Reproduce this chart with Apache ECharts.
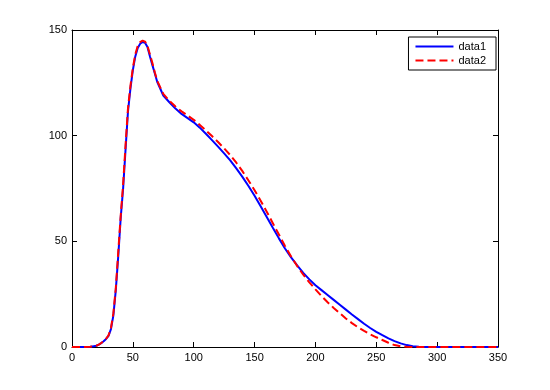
<!DOCTYPE html>
<html>
<head>
<meta charset="utf-8">
<script src="https://cdn.jsdelivr.net/npm/echarts@6/dist/echarts.min.js"></script>
<style>
  html, body { margin: 0; padding: 0; background: #fff; }
  #chart { width: 550px; height: 390px; }
</style>
</head>
<body>
<div id="chart"></div>
<script>
// x positions (finer sampling through the steep rise and the peak)
var xs = [0, 5, 10, 15, 18, 20, 22, 24, 26, 28, 30, 32, 34, 36, 38, 40, 42, 44, 46, 48,
  50, 52, 54, 56, 58, 60, 62, 64, 66, 68, 70, 75, 80, 85, 90, 95, 100, 105, 110, 115,
  120, 125, 130, 135, 140, 145, 150, 155, 160, 165, 170, 175, 180, 185, 190, 195, 200,
  205, 210, 215, 220, 225, 230, 235, 240, 245, 250, 255, 260, 265, 270, 275, 280, 285,
  290, 295, 300, 305, 310, 315, 320, 325, 330, 335, 340, 345, 350]

var data1 = [0, 0, 0, 0.1, 0.4, 0.6, 1.1, 1.8, 2.7, 3.8, 5.3, 8.5, 15, 27, 43, 61, 75, 93.5, 111.5, 122.3,
  131, 137.5, 141.5, 143.5, 144.3, 144, 142, 137.6, 133.5, 129.5, 125.5, 119, 115.8, 112.8, 110.3, 108.3, 106.3, 103.8, 100.9, 97.9,
  94.8, 91.6, 88.3, 84.5, 80.5, 76.2, 71.6, 66.6, 61.5, 56.4, 51.4, 46.6, 42.4, 38.6, 35.1, 32, 29.2,
  26.9, 24.6, 22.3, 20, 17.7, 15.4, 13.2, 11, 9, 7.2, 5.6, 4.1, 2.8, 1.7, 0.9, 0.4, 0.15,
  0.05, 0, 0, 0, 0, 0, 0, 0, 0, 0, 0, 0, 0]

var data2 = [0, 0, 0, 0.1, 0.4, 0.6, 1.1, 1.9, 2.8, 3.9, 5.5, 9, 16, 28, 45, 62, 77, 95.5, 113, 123.5,
  132, 138.5, 142.5, 144.3, 145, 144.5, 142.5, 138.5, 134.5, 130, 126, 119.8, 116.5, 113.8, 111.5, 109.5, 107.5, 105.1, 102.5, 99.8,
  97, 94, 90.8, 87.2, 83.2, 78.8, 74.2, 69.2, 64, 58.6, 53.2, 47.8, 42.8, 38.3, 34.2, 30.6, 27.3,
  24.1, 21.2, 18.5, 16, 13.5, 11.3, 9.3, 7.6, 6, 4.6, 3.3, 2, 0.9, 0.3, 0.1, 0, 0,
  0, 0, 0, 0, 0, 0, 0, 0, 0, 0, 0, 0, 0]

var xTicks = [0, 50, 100, 150, 200, 250, 300, 350]
var yTicks = [0, 50, 100, 150]
var seriesNames = ['data1', 'data2']

var chart = echarts.init(document.getElementById('chart'))

function pairs (vals) {
  return xs.map(function (x, i) { return [x, vals[i]] })
}

var font = 'Liberation Sans, Arial, Helvetica, sans-serif'

function makeAxis (ticks, pos, labels) {
  return {
    type: 'value',
    position: pos,
    min: ticks[0],
    max: ticks[ticks.length - 1],
    interval: ticks[1] - ticks[0],
    axisLine: { show: true, onZero: false, lineStyle: { color: '#000', width: 1 } },
    axisTick: { show: true, inside: true, length: 5, lineStyle: { color: '#000', width: 1 } },
    axisLabel: { show: labels, color: '#000', fontSize: 11, fontFamily: font, margin: 5 },
    splitLine: { show: false }
  }
}

chart.setOption({
  animation: false,
  backgroundColor: '#fff',
  grid: { left: 72, right: 52, top: 30, bottom: 43, containLabel: false },
  legend: {
    data: seriesNames,
    orient: 'vertical',
    right: 54,
    top: 37,
    backgroundColor: '#fff',
    borderColor: '#000',
    borderWidth: 1,
    borderRadius: 0,
    padding: [4, 10, 4, 6],
    itemGap: 3,
    itemWidth: 38,
    itemHeight: 11,
    // hide the symbol in the legend, keep the line sample
    itemStyle: { opacity: 0 },
    textStyle: { color: '#000', fontSize: 11, fontFamily: font }
  },
  xAxis: [makeAxis(xTicks, 'bottom', true), makeAxis(xTicks, 'top', false)],
  yAxis: [makeAxis(yTicks, 'left', true), makeAxis(yTicks, 'right', false)],
  series: [
    {
      name: seriesNames[0],
      type: 'line',
      symbol: 'none',
      color: '#0000ff',
      lineStyle: { color: '#0000ff', width: 2 },
      data: pairs(data1)
    },
    {
      name: seriesNames[1],
      type: 'line',
      symbol: 'none',
      color: '#ff0000',
      lineStyle: { color: '#ff0000', width: 2, type: [8, 4] },
      data: pairs(data2)
    }
  ]
})
</script>
</body>
</html>
